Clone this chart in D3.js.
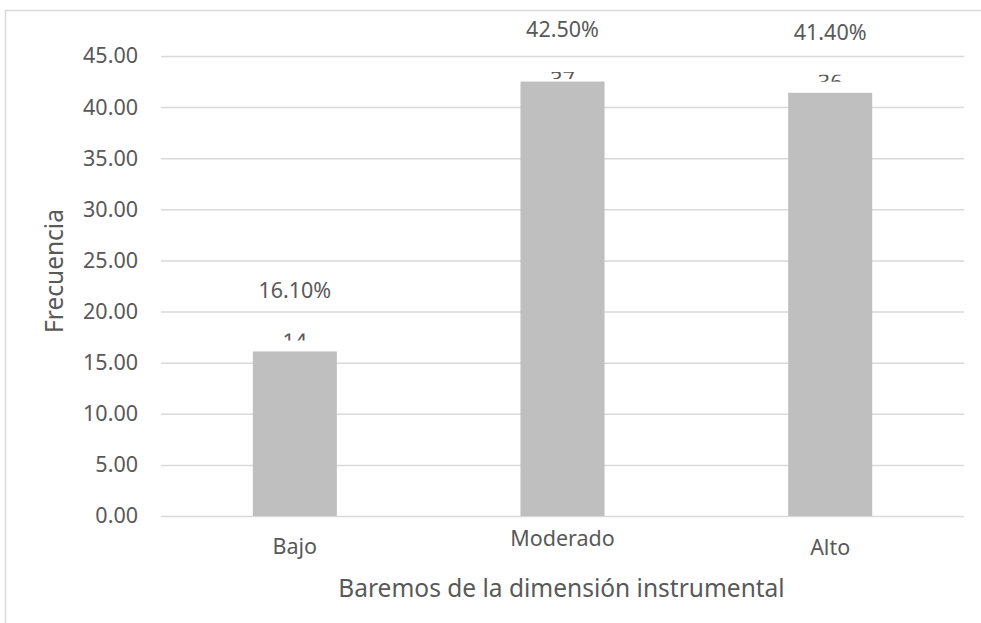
<!DOCTYPE html>
<html>
<head>
<meta charset="utf-8">
<script src="https://cdn.jsdelivr.net/npm/d3@7"></script>
<style>
  html, body { margin: 0; padding: 0; background: #fff; }
  svg { display: block; font-family: "Noto Sans", sans-serif; }
</style>
</head>
<body>
<svg id="chart" width="981" height="623"></svg>
<script>
// ---- data ----
const categories = ["Bajo", "Moderado", "Alto"];
const percentValues = [16.1, 42.5, 41.4];
const percentLabels = ["16.10%", "42.50%", "41.40%"];
const countLabels = ["14", "37", "36"];
const yTicks = [0, 5, 10, 15, 20, 25, 30, 35, 40, 45];
const yTitle = "Frecuencia";
const xTitle = "Baremos de la dimensión instrumental";

// ---- layout ----
const W = 981, H = 623;
const plot = { left: 161, right: 964, top: 56, bottom: 516 };
const textColor = "#595959";
const gridColor = "#d9d9d9";
const barColor = "#bfbfbf";
const FONT = "Noto Sans, sans-serif";

const svg = d3.select("#chart");

// chart frame
svg.append("rect")
  .attr("x", 5.5).attr("y", 10.5)
  .attr("width", W + 20).attr("height", H + 20)
  .attr("fill", "none").attr("stroke", gridColor).attr("stroke-width", 1.5);

const x = d3.scaleBand()
  .domain(categories)
  .range([plot.left, plot.right])
  .paddingInner(0.686)
  .paddingOuter(0.343);

const y = d3.scaleLinear()
  .domain([0, 45])
  .range([plot.bottom, plot.top]);

// gridlines + y labels via axis
const yAxis = d3.axisLeft(y)
  .tickValues(yTicks)
  .tickFormat(d3.format(".2f"))
  .tickSize(-(plot.right - plot.left))
  .tickPadding(23);

const gy = svg.append("g")
  .attr("transform", `translate(${plot.left},0)`)
  .call(yAxis);
gy.select(".domain").remove();
gy.selectAll(".tick line").attr("stroke", gridColor).attr("stroke-width", 1.5);
gy.selectAll(".tick text")
  .attr("fill", textColor)
  .style("font-size", "21.5px")
  .style("font-family", FONT);

// count labels (drawn behind bars, partially clipped)
const defs = svg.append("defs");
const countTop = i => Math.max(y(percentValues[i]) - 18, 72);
categories.forEach((c, i) => {
  defs.append("clipPath").attr("id", "clip" + i)
    .append("rect")
    .attr("x", x(c) - 20).attr("width", x.bandwidth() + 40)
    .attr("y", countTop(i)).attr("height", 7);
});
svg.append("g").selectAll("text")
  .data(categories)
  .join("text")
  .attr("clip-path", (d, i) => `url(#clip${i})`)
  .attr("x", d => x(d) + x.bandwidth() / 2)
  .attr("y", (d, i) => countTop(i) + 15.4)
  .attr("text-anchor", "middle")
  .attr("fill", textColor)
  .style("font-size", "21.5px")
  .text((d, i) => countLabels[i]);

// bars
svg.append("g").selectAll("rect")
  .data(categories)
  .join("rect")
  .attr("x", d => x(d))
  .attr("width", x.bandwidth())
  .attr("y", (d, i) => y(percentValues[i]))
  .attr("height", (d, i) => y(0) - y(percentValues[i]))
  .attr("fill", barColor);

// percent labels
svg.append("g").selectAll("text")
  .data(categories)
  .join("text")
  .attr("x", d => x(d) + x.bandwidth() / 2)
  .attr("y", (d, i) => Math.max(y(percentValues[i]) - 53, 37))
  .attr("text-anchor", "middle")
  .attr("fill", textColor)
  .style("font-size", "21.5px")
  .text((d, i) => percentLabels[i]);

// x axis category labels
const xAxis = d3.axisBottom(x).tickSize(0).tickPadding(0);
const gx = svg.append("g")
  .attr("transform", `translate(0,${plot.bottom})`)
  .call(xAxis);
gx.select(".domain").remove();
gx.selectAll(".tick text")
  .attr("fill", textColor)
  .attr("dy", null)
  .attr("y", (d, i) => [38, 30, 39][i])
  .style("font-size", "21.5px")
  .style("font-family", FONT);

// axis titles
svg.append("text")
  .attr("x", (plot.left + plot.right) / 2 - 1)
  .attr("y", 597)
  .attr("text-anchor", "middle")
  .attr("fill", textColor)
  .style("font-size", "24.5px")
  .text(xTitle);

svg.append("text")
  .attr("transform", `translate(63,271) rotate(-90)`)
  .attr("text-anchor", "middle")
  .attr("fill", textColor)
  .style("font-size", "24.5px")
  .text(yTitle);
</script>
</body>
</html>
